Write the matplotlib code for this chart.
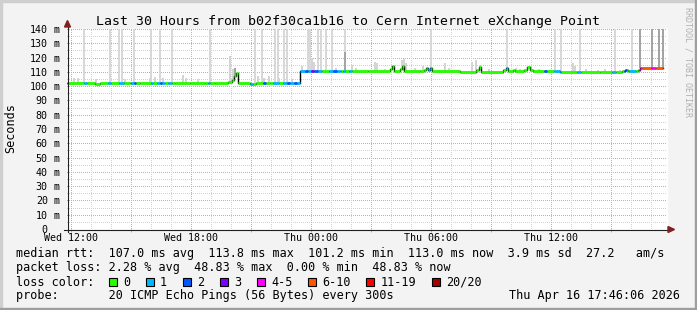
import numpy as np
import matplotlib
matplotlib.use("Agg")
import matplotlib.pyplot as plt
import matplotlib.transforms as mtransforms
from matplotlib.collections import LineCollection
from matplotlib.patches import Rectangle, Polygon
from matplotlib.lines import Line2D

W, H = 697, 310
MONO = "DejaVu Sans Mono"

# all times are hours since Wed 00:00
title = "Last 30 Hours from b02f30ca1b16 to Cern Internet eXchange Point"
t_first, t_last = 11.82, 41.82
x_tick_hours = [12, 18, 24, 30, 36]
x_tick_labels = ["Wed 12:00", "Wed 18:00", "Thu 00:00", "Thu 06:00", "Thu 12:00"]
y_tick_values = list(range(0, 141, 10))

# median rtt in ms, step changes
median_t = [11.82, 13.22, 13.47, 14.97, 15.47, 17.22, 17.97, 18.72, 19.22, 19.87,
            20.07, 20.17, 20.27, 20.37, 20.97, 21.27, 21.97, 22.97, 23.47, 25.47,
            26.87, 27.97, 28.07, 28.17, 28.47, 28.57, 28.67, 29.47, 29.67, 29.77,
            29.87, 29.97, 30.07, 31.47, 32.27, 32.42, 32.52, 33.62, 33.77, 33.87,
            34.12, 34.22, 34.67, 34.82, 34.97, 35.12, 36.47, 38.47, 39.57, 39.72,
            39.87, 40.37, 40.47]
median_ms = [102.3, 101.8, 102.3, 102.0, 102.4, 102.0, 102.3, 101.9, 102.3, 102.6,
             104.5, 107.0, 109.0, 102.2, 101.8, 102.3, 101.9, 102.3, 110.8, 110.6,
             110.3, 112.0, 114.0, 110.3, 112.0, 114.0, 110.5, 110.3, 111.5, 113.0,
             111.0, 112.6, 110.3, 110.0, 111.5, 113.6, 110.2, 111.0, 112.7, 110.3,
             111.5, 110.3, 111.5, 113.6, 111.0, 110.3, 110.0, 110.2, 110.5, 111.5,
             110.3, 111.0, 112.9]
median_end = 41.62

# lost pings class (index into loss_labels), step changes
loss_t = [11.82, 12.67, 12.82, 13.87, 14.02, 14.42, 14.67, 15.02, 15.17, 15.27,
          16.02, 16.12, 16.32, 16.47, 16.57, 16.72, 16.87, 17.07, 18.87, 18.97,
          20.97, 21.12, 21.62, 21.77, 22.12, 22.42, 22.62, 22.82, 22.97, 23.17,
          23.32, 23.72, 23.87, 24.02, 24.17, 24.37, 24.57, 24.92, 25.12, 25.32,
          25.52, 25.62, 25.72, 25.92, 26.07, 29.82, 30.02, 33.77, 33.87, 35.67,
          35.82, 36.17, 36.52, 37.32, 37.52, 39.07, 39.27, 39.67, 39.82, 39.92,
          40.27, 40.42, 40.57, 41.02, 41.27]
loss_idx = [0, 1, 0, 1, 0, 1, 0, 1, 2, 0,
            1, 0, 1, 2, 1, 0, 1, 0, 1, 0,
            1, 0, 2, 0, 1, 0, 1, 2, 1, 2,
            1, 2, 1, 3, 2, 1, 0, 1, 2, 1,
            0, 1, 0, 1, 0, 1, 0, 1, 0, 2,
            0, 1, 0, 1, 0, 1, 0, 2, 0, 1,
            0, 4, 5, 4, 5]

loss_labels = ["0", "1", "2", "3", "4-5", "6-10", "11-19", "20/20"]
loss_colors = ["#26ff00", "#00b8ff", "#0059ff", "#7e00ff",
               "#ff00ff", "#ff5500", "#ff0000", "#a10000"]

# smoke: single slow pings going off the chart
spike_t = [12.67, 13.97, 14.42, 14.57, 15.17, 16.02, 16.47, 17.07, 18.97, 21.22,
           21.57, 22.22, 22.37, 22.67, 22.82, 23.87, 23.97, 24.37, 24.52, 24.77,
           25.07, 25.72, 30.02, 33.82, 36.22, 36.52, 37.47, 39.22, 40.07]
# smaller puffs above the median
puff_t = [12.17, 12.37, 13.27, 14.72, 15.97, 16.22, 16.62, 17.62, 17.77, 18.37,
          19.97, 20.12, 21.37, 21.67, 21.92, 22.42, 23.07, 23.57, 24.07, 24.17,
          25.27, 26.07, 26.27, 27.22, 27.32, 27.72, 28.57, 28.67, 28.77, 29.22,
          29.62, 30.72, 30.92, 32.07, 32.27, 32.47, 32.92, 34.27, 34.47, 35.02,
          35.42, 37.12, 37.22, 37.77, 38.37, 38.72, 39.47]
puff_top = [106, 105.5, 105, 105, 106, 106.5, 105.5, 108, 106, 105,
            121, 112, 107, 106, 107, 106, 105, 114, 120, 117,
            113, 115, 113, 117, 116, 112, 118, 119, 116, 113,
            114, 116, 113, 117, 118, 115, 112, 113, 112, 114,
            112, 116, 114, 112, 111, 112, 111]
# darker smoke (many slow pings)
dark_t = [20.22, 25.72, 40.47, 41.07, 41.42, 41.62]
dark_top = [113, 124, 150, 150, 150, 150]

legend_lines = [
    "median rtt:  107.0 ms avg  113.8 ms max  101.2 ms min  113.0 ms now  3.9 ms sd  27.2   am/s",
    "packet loss: 2.28 % avg  48.83 % max  0.00 % min  48.83 % now",
    "loss color:",
    "probe:       20 ICMP Echo Pings (56 Bytes) every 300s",
]
stamp = "Thu Apr 16 17:46:06 2026"

MAJOR_GRID = "#f09c9c"
MINOR_GRID = "#d2d2d2"


def fx(px):
    return px / W


def fy(py):
    return 1 - py / H


def step_lookup(ts, vals, t):
    i = np.searchsorted(ts, t, side="right") - 1
    return np.asarray(vals)[np.clip(i, 0, len(vals) - 1)]


fig = plt.figure(figsize=(W / 100, H / 100), dpi=100, facecolor="#f3f3f3")
ax = fig.add_axes([fx(67), fy(229), 600 / W, 200 / H])
ax.set_xlim(t_first, t_last)
ax.set_ylim(0, 140)
for s in ax.spines.values():
    s.set_visible(False)

# canvas and dotted grid behind the axes, each line on a pixel centre
fig.add_artist(Rectangle((fx(67), fy(229)), 600 / W, 200 / H, color="white",
                         zorder=0.2, transform=fig.transFigure))
dots = (0, (1, 1))
for v in range(5, 141, 5):
    row = round(229 - v * 200 / 140) + 0.5
    fig.add_artist(Line2D([fx(67), fx(667)], [fy(row), fy(row)], lw=0.72,
                          linestyle=dots, snap=False, zorder=0.5,
                          color=MAJOR_GRID if v % 10 == 0 else MINOR_GRID,
                          transform=fig.transFigure))
for h in np.arange(12, t_last, 1):
    col = round(67 + (h - t_first) * 20) + 0.5
    fig.add_artist(Line2D([fx(col), fx(col)], [fy(229), fy(29)], lw=0.72,
                          linestyle=dots, snap=False, zorder=0.5,
                          color=MAJOR_GRID if (h - 12) % 3 == 0 else MINOR_GRID,
                          transform=fig.transFigure))
ax.set_zorder(1)
ax.patch.set_alpha(0)

# smoke
spike_base = step_lookup(median_t, median_ms, spike_t)
ax.bar(spike_t, 150 - spike_base, bottom=spike_base, width=0.12,
       color="#d8d8d8", linewidth=0, zorder=1)
puff_base = step_lookup(median_t, median_ms, puff_t)
ax.bar(puff_t, np.array(puff_top) - puff_base, bottom=puff_base, width=0.12,
       color="#d4d4d4", linewidth=0, zorder=1)
dark_base = step_lookup(median_t, median_ms, dark_t)
ax.bar(dark_t, np.array(dark_top) - dark_base, bottom=dark_base, width=0.12,
       color="#a4a4a4", linewidth=0, zorder=2)

# median: black steps below, loss colored pieces on top
ax.step(median_t + [median_end], median_ms + [median_ms[-1]], where="post",
        color="black", lw=1.0, zorder=3)
edges = np.unique(np.concatenate([median_t, loss_t, [median_end]]))
edges = edges[(edges >= median_t[0]) & (edges <= median_end)]
segs, cols = [], []
for a, b in zip(edges[:-1], edges[1:]):
    v = step_lookup(median_t, median_ms, a)
    segs.append([(a, v), (b, v)])
    cols.append(loss_colors[step_lookup(loss_t, loss_idx, a)])
ax.add_collection(LineCollection(segs, colors=cols, linewidths=2.0,
                                 capstyle="butt", zorder=4))

# ticks and labels
ax.set_xticks(np.arange(12, t_last, 3))
ax.set_xticklabels([])
ax.set_yticks([])
ax.tick_params(axis="x", direction="out", length=2.5, width=0.72,
               color=MAJOR_GRID)
xt = mtransforms.blended_transform_factory(ax.transData, fig.transFigure)
for h, lab in zip(x_tick_hours, x_tick_labels):
    ax.text(h, fy(241), lab, transform=xt, ha="center", va="baseline",
            fontsize=7.2, family=MONO)
yt = mtransforms.blended_transform_factory(fig.transFigure, ax.transData)
for v in y_tick_values:
    fig.text(fx(47.8), v, str(v), transform=yt, ha="right",
             va="center_baseline", fontsize=7.2, family=MONO)
    if v:
        fig.text(fx(53.6), v, "m", transform=yt, ha="left",
                 va="center_baseline", fontsize=7.2, family=MONO)

# axis lines with arrows
fig.add_artist(Line2D([fx(67.5), fx(67.5)], [fy(232), fy(26)], color="#1f1f1f",
                      lw=0.8, zorder=3, transform=fig.transFigure))
fig.add_artist(Line2D([fx(64), fx(669)], [fy(229.5), fy(229.5)], color="#1f1f1f",
                      lw=0.8, zorder=3, transform=fig.transFigure))
fig.add_artist(Polygon([(fx(64.5), fy(27)), (fx(70.5), fy(27)), (fx(67.5), fy(20.5))],
                       closed=True, color="#801f1f", zorder=3, transform=fig.transFigure))
fig.add_artist(Polygon([(fx(668), fy(226.5)), (fx(668), fy(232.5)), (fx(674.5), fy(229.5))],
                       closed=True, color="#801f1f", zorder=3, transform=fig.transFigure))

# texts
fig.text(fx(347.5), fy(24.5), title, ha="center", va="baseline",
         fontsize=9.5, family=MONO)
fig.text(fx(10.5), fy(128), "Seconds", rotation=90, ha="center", va="center",
         fontsize=8.5, family=MONO)
fig.text(fx(688), fy(62), "RRDTOOL / TOBI OETIKER", rotation=270, ha="center",
         va="center", fontsize=6, color="#b0b0b0", family=MONO)
for i, line in enumerate(legend_lines):
    fig.text(fx(16), fy(257.5 + 14 * i), line, ha="left", va="baseline",
             fontsize=8.5, family=MONO)
fig.text(fx(680), fy(299.5), stamp, ha="right", va="baseline",
         fontsize=8.5, family=MONO)

# loss color legend boxes
bx = 108.5
for lab, c in zip(loss_labels, loss_colors):
    fig.add_artist(Rectangle((fx(bx), fy(286)), 8 / W, 8 / H, facecolor=c,
                             edgecolor="black", lw=0.8, transform=fig.transFigure))
    fig.text(fx(bx + 14.5), fy(285.5), lab, ha="left", va="baseline",
             fontsize=8.5, family=MONO)
    bx += 29.9 + 7.11 * len(lab)

# frame shading
fig.add_artist(Rectangle((0, fy(2)), 1, 2 / H, color="#cfcfcf", transform=fig.transFigure))
fig.add_artist(Rectangle((0, 0), 2 / W, 1, color="#cfcfcf", transform=fig.transFigure))
fig.add_artist(Rectangle((0, 0), 1, 2 / H, color="#9e9e9e", transform=fig.transFigure))
fig.add_artist(Rectangle((fx(695), 0), 2 / W, 1, color="#9e9e9e", transform=fig.transFigure))

fig.savefig("out.png", dpi=100, facecolor=fig.get_facecolor())
